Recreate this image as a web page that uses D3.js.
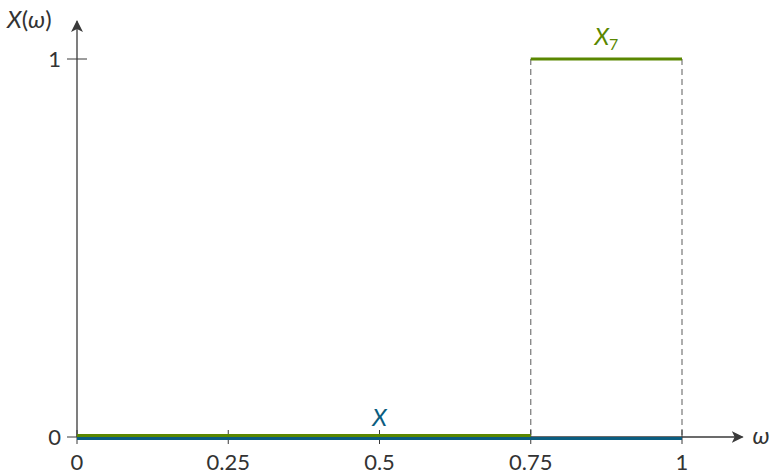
<!DOCTYPE html>
<html>
<head>
<meta charset="utf-8">
<script src="https://cdn.jsdelivr.net/npm/d3@7"></script>
<style>
  body { margin: 0; background: #fff; }
  text { font-family: Lato, "Open Sans", sans-serif; }
</style>
</head>
<body>
<div id="chart"></div>
<script>
// data
const xTicks = [0, 0.25, 0.5, 0.75, 1];
const xTickLabels = ["0", "0.25", "0.5", "0.75", "1"];
const yTicks = [0, 1];
const yTickLabels = ["0", "1"];
// X: spectrum of the full signal (zero on [0,1])
const seriesX = [[0, 0], [1, 0]];
// X7: band indicator, zero then one on [0.75, 1]
const seriesX7Low = [[0, 0], [0.75, 0]];
const seriesX7High = [[0.75, 1], [1, 1]];
const bandEdges = [0.75, 1];

const width = 770, height = 474;
const blue = "#0b5d80", green = "#5a8700", axisCol = "#3a3a3a";

const svg = d3.select("#chart").append("svg")
    .attr("width", width).attr("height", height);

const x = d3.scaleLinear().domain([0, 1]).range([77, 682]);
const y = d3.scaleLinear().domain([0, 1]).range([437, 59]);

svg.append("defs").append("marker")
    .attr("id", "arrow")
    .attr("viewBox", "0 0 10 10")
    .attr("refX", 9).attr("refY", 5)
    .attr("markerWidth", 12).attr("markerHeight", 12)
    .attr("markerUnits", "userSpaceOnUse")
    .attr("orient", "auto")
    .append("path")
    .attr("d", "M0,0 L10,5 L0,10 L2.5,5 Z")
    .attr("fill", axisCol);

// dashed band edges
svg.selectAll(".edge").data(bandEdges).enter().append("line")
    .attr("x1", d => x(d)).attr("x2", d => x(d))
    .attr("y1", y(1)).attr("y2", y(0))
    .attr("stroke", "#777").attr("stroke-width", 1.2)
    .attr("stroke-dasharray", "6,4");

// axes
svg.append("line")
    .attr("x1", x(0)).attr("x2", x(1.1))
    .attr("y1", y(0)).attr("y2", y(0))
    .attr("stroke", axisCol).attr("stroke-width", 1.3)
    .attr("marker-end", "url(#arrow)");
svg.append("line")
    .attr("x1", x(0)).attr("x2", x(0))
    .attr("y1", y(0)).attr("y2", y(1.1))
    .attr("stroke", axisCol).attr("stroke-width", 1.3)
    .attr("marker-end", "url(#arrow)");

svg.selectAll(".xtick").data(xTicks).enter().append("line")
    .attr("x1", d => x(d)).attr("x2", d => x(d))
    .attr("y1", y(0) - 7).attr("y2", y(0) + 7)
    .attr("stroke", axisCol).attr("stroke-width", 1);
svg.selectAll(".xlab").data(xTicks).enter().append("text")
    .attr("x", d => x(d)).attr("y", y(0) + 33)
    .attr("text-anchor", "middle")
    .attr("font-size", 22).attr("fill", "#333")
    .text((d, i) => xTickLabels[i]);

svg.selectAll(".ytick").data(yTicks).enter().append("line")
    .attr("x1", x(0) - 10).attr("x2", x(0) + 10)
    .attr("y1", d => y(d)).attr("y2", d => y(d))
    .attr("stroke", axisCol).attr("stroke-width", 1);
svg.selectAll(".ylab").data(yTicks).enter().append("text")
    .attr("x", x(0) - 16).attr("y", d => y(d) + 8)
    .attr("text-anchor", "end")
    .attr("font-size", 22).attr("fill", "#333")
    .text((d, i) => yTickLabels[i]);

// series
const line = d3.line().x(d => x(d[0])).y(d => y(d[1]));
svg.append("path").attr("d", line(seriesX))
    .attr("transform", "translate(0,1.5)")
    .attr("fill", "none").attr("stroke", blue).attr("stroke-width", 3);
svg.append("path").attr("d", line(seriesX7Low))
    .attr("transform", "translate(0,-1.5)")
    .attr("fill", "none").attr("stroke", green).attr("stroke-width", 3.2);
svg.append("path").attr("d", line(seriesX7High))
    .attr("fill", "none").attr("stroke", green).attr("stroke-width", 3.2);

// labels
svg.append("text")
    .attr("x", x(0.5)).attr("y", y(0) - 11)
    .attr("text-anchor", "middle").attr("font-size", 24)
    .attr("font-style", "italic").attr("fill", blue)
    .text("X");
const l7 = svg.append("text")
    .attr("x", x(0.875)).attr("y", y(1) - 14)
    .attr("text-anchor", "middle").attr("font-size", 24)
    .attr("fill", green);
l7.append("tspan").attr("font-style", "italic").text("X");
l7.append("tspan").attr("font-size", 16).attr("dy", 5).text("7");

const yl = svg.append("text")
    .attr("x", 7).attr("y", 28)
    .attr("font-size", 24).attr("fill", "#333");
yl.append("tspan").attr("font-style", "italic").text("X");
yl.append("tspan").text("(");
yl.append("tspan").attr("font-style", "italic").text("ω");
yl.append("tspan").text(")");

svg.append("text")
    .attr("x", x(1.1) + 10).attr("y", y(0) + 7)
    .attr("font-size", 24).attr("font-style", "italic").attr("fill", "#333")
    .text("ω");
</script>
</body>
</html>
